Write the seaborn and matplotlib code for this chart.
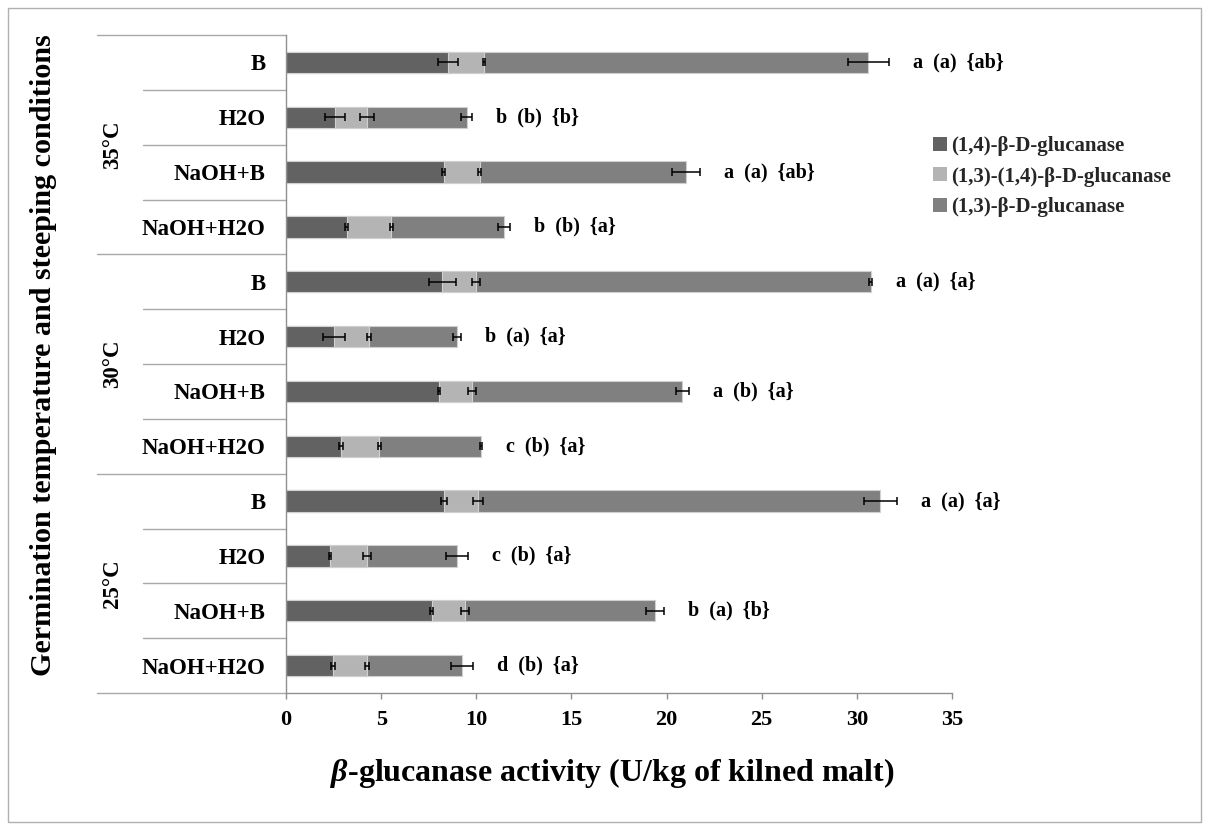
import numpy as np
import pandas as pd
import matplotlib
matplotlib.use("Agg")
import matplotlib.pyplot as plt
import matplotlib.transforms as mtransforms
from matplotlib.patches import Patch, Rectangle
import seaborn as sns

# Germination temperature groups and steeping treatments (top to bottom)
temperatures = ["35°C", "30°C", "25°C"]
steeping = ["B", "H2O", "NaOH+B", "NaOH+H2O"]

# Enzyme activities (U/kg of kilned malt), one value per bar, top to bottom
glucanase_14 = [8.53, 2.57, 8.29, 3.20, 8.21, 2.52, 8.04, 2.89, 8.29, 2.31, 7.65, 2.47]
glucanase_1314 = [1.87, 1.69, 1.90, 2.32, 1.76, 1.86, 1.73, 2.00, 1.80, 1.95, 1.76, 1.79]
glucanase_13 = [20.20, 5.23, 10.83, 5.94, 20.75, 4.61, 11.06, 5.38, 21.14, 4.73, 9.98, 4.99]

# Standard deviations at the end of each stacked segment
sd_14 = [0.53, 0.52, 0.08, 0.08, 0.71, 0.59, 0.03, 0.08, 0.15, 0.03, 0.10, 0.10]
sd_1314 = [0.05, 0.37, 0.08, 0.08, 0.20, 0.10, 0.20, 0.08, 0.25, 0.19, 0.23, 0.10]
sd_13 = [1.08, 0.29, 0.72, 0.31, 0.10, 0.20, 0.33, 0.05, 0.88, 0.59, 0.48, 0.58]

# Significance letters for each bar
sig_steep = ["a", "b", "a", "b", "a", "b", "a", "c", "a", "c", "b", "d"]
sig_temp = ["(a)", "(b)", "(a)", "(b)", "(a)", "(a)", "(b)", "(b)", "(a)", "(b)", "(a)", "(b)"]
sig_total = ["{ab}", "{b}", "{ab}", "{a}", "{a}", "{a}", "{a}", "{a}", "{a}", "{a}", "{b}", "{a}"]

legend_labels = ["(1,4)-β-D-glucanase", "(1,3)-(1,4)-β-D-glucanase", "(1,3)-β-D-glucanase"]

c14, c1314, c13 = "#626262", "#b4b4b4", "#808080"

FONT = "Liberation Serif"
sns.set_theme(style="white")
plt.rcParams["font.family"] = FONT
plt.rcParams["font.weight"] = "bold"
plt.rcParams["mathtext.fontset"] = "custom"
plt.rcParams["mathtext.it"] = "Liberation Serif:italic:bold"
plt.rcParams["mathtext.rm"] = "Liberation Serif:bold"
plt.rcParams["mathtext.bf"] = "Liberation Serif:bold"

txt = dict(family=FONT, fontweight="bold", color="black")

rows = [f"{t} {s}" for t in temperatures for s in steeping]
df = pd.DataFrame({
    "row": rows,
    "g14": glucanase_14,
    "g1314": glucanase_1314,
    "g13": glucanase_13,
})
df["end14"] = df["g14"]
df["end1314"] = df["g14"] + df["g1314"]
df["total"] = df["end1314"] + df["g13"]

W, H = 1208, 830
fig = plt.figure(figsize=(W / 100, H / 100), dpi=100)
ax = fig.add_axes([286 / W, 1 - 693 / H, 666 / W, 658 / H])

edge = "#d0d0d0"
for col, colr in [("total", c13), ("end1314", c1314), ("end14", c14)]:
    sns.barplot(data=df, y="row", x=col, order=rows, orient="h", color=colr,
                saturation=1, width=0.39, edgecolor=edge, linewidth=0.8,
                errorbar=None, ax=ax)

ypos = np.arange(len(rows))
for col, sd in [("end14", sd_14), ("end1314", sd_1314), ("total", sd_13)]:
    ax.errorbar(df[col], ypos, xerr=sd, fmt="none", ecolor="black",
                elinewidth=1.1, capsize=2.6, capthick=1.1, zorder=5)

for i in range(len(rows)):
    label = f"{sig_steep[i]}  {sig_temp[i]}  {sig_total[i]}"
    ax.annotate(label, xy=(df["total"][i] + sd_13[i], i), xytext=(24, 0),
                textcoords="offset pixels", ha="left", va="center",
                fontsize=14.5, **txt)

ax.set_xlim(0, 35)
ax.set_ylim(11.5, -0.5)
ax.set_xticks(range(0, 36, 5))
ax.set_xticklabels([str(v) for v in range(0, 36, 5)], fontsize=16, **txt)
ax.set_yticks(ypos)
ax.set_yticklabels(steeping * len(temperatures), fontsize=16.5, **txt)
ax.tick_params(axis="y", length=0, pad=14.5)
ax.tick_params(axis="x", direction="out", length=4, width=1, color="#909090", pad=8, bottom=True)
ax.set_xlabel("")
ax.set_ylabel("")
for s in ["top", "right"]:
    ax.spines[s].set_visible(False)
for s in ["left", "bottom"]:
    ax.spines[s].set_color("#909090")
    ax.spines[s].set_linewidth(1)

# Category separators on the left side of the axis
trans = mtransforms.blended_transform_factory(ax.transAxes, ax.transData)
line_kw = dict(color="#a8a8a8", lw=1, transform=trans, clip_on=False)
for b in [-0.5, 3.5, 7.5, 11.5]:
    ax.plot([-0.284, 0], [b, b], **line_kw)
for g in range(len(temperatures)):
    for k in range(1, len(steeping)):
        b = g * len(steeping) + k - 0.5
        ax.plot([-0.215, 0], [b, b], **line_kw)

for g, t in enumerate(temperatures):
    ax.text(-0.26, g * len(steeping) + 1.5, t, transform=trans, rotation=90,
            ha="center", va="center", fontsize=16.5, **txt)

handles = [Patch(facecolor=c, edgecolor="none") for c in (c14, c1314, c13)]
fig.legend(handles, legend_labels, loc="upper left",
           bbox_to_anchor=(925 / W, 1 - 128 / H), frameon=False,
           handlelength=0.65, handleheight=0.65,
           handletextpad=0.2, labelspacing=0.5, borderaxespad=0,
           prop={"family": FONT, "weight": "bold", "size": 15})

fig.text(44 / W, 1 - 355 / H, "Germination temperature and steeping conditions",
         rotation=90, ha="center", va="center", fontsize=21.7, **txt)
fig.text(612 / W, 1 - 773 / H, r"$\beta$-glucanase activity (U/kg of kilned malt)",
         ha="center", va="center", fontsize=23, **txt)

fig.add_artist(Rectangle((8 / W, 1 - 822 / H), 1193 / W, 814 / H,
                         transform=fig.transFigure, fill=False,
                         edgecolor="#b0b0b0", lw=1))

fig.savefig("out.png", dpi=100)
